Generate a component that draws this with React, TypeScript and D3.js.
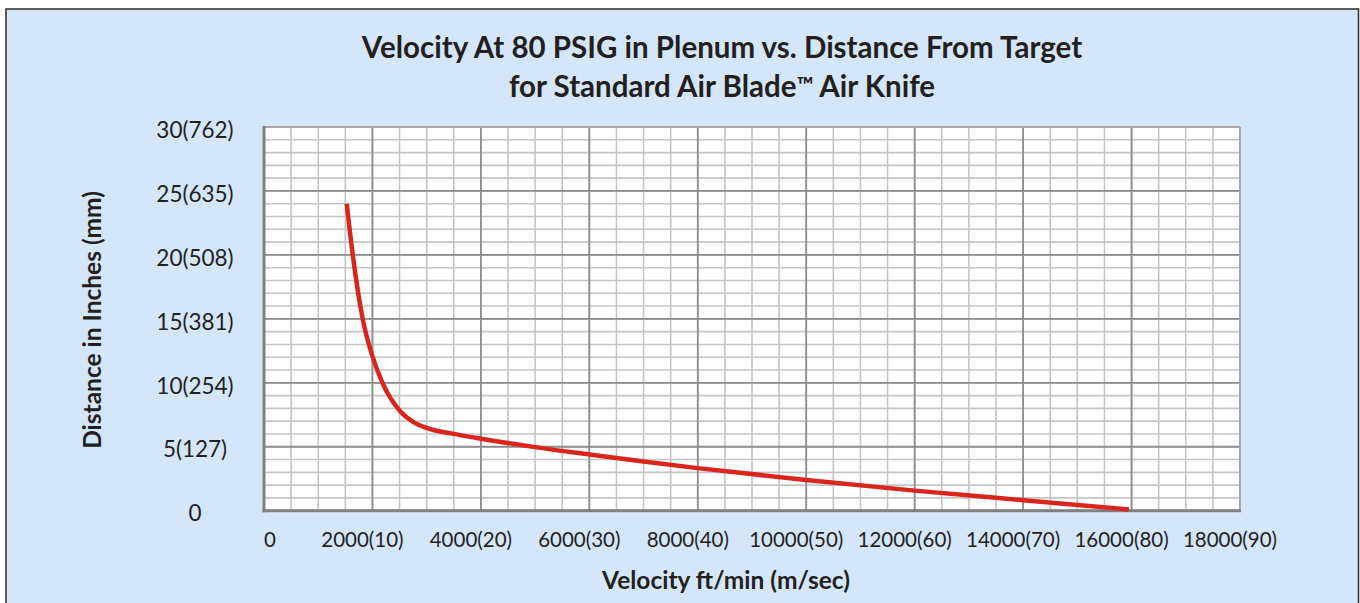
import React from "react";
import * as d3 from "d3";

// ---- data ----
const velocity = [1525, 1637, 1820, 1990, 2185, 2508, 2750, 3000, 3600, 4000, 5000, 6000, 7000, 8000, 10000, 12000, 14000, 15950];
const distance = [24, 20, 15, 12.2, 10, 7.8, 6.95, 6.48, 5.93, 5.63, 4.97, 4.4, 3.85, 3.33, 2.4, 1.57, 0.82, 0.1];

const xTickValues = [0, 2000, 4000, 6000, 8000, 10000, 12000, 14000, 16000, 18000];
const xTickLabels = ["0", "2000(10)", "4000(20)", "6000(30)", "8000(40)", "10000(50)", "12000(60)", "14000(70)", "16000(80)", "18000(90)"];
const yTickValues = [0, 5, 10, 15, 20, 25, 30];
const yTickLabels = ["0", "5(127)", "10(254)", "15(381)", "20(508)", "25(635)", "30(762)"];

const titleLine1 = "Velocity At 80 PSIG in Plenum vs. Distance From Target";
const xAxisTitle = "Velocity ft/min (m/sec)";
const yAxisTitle = "Distance in Inches (mm)";

const W = 1360;
const H = 603;
const FONT = "Lato, 'Open Sans', sans-serif";

export default function App() {
  const x = d3.scaleLinear().domain([0, 18000]).range([264, 1240]);
  const y = d3.scaleLinear().domain([0, 30]).range([510.7, 127]);

  const minorX = d3.range(0, 18001, 500);
  const minorY = d3.range(0, 31, 1);
  const majorX = d3.range(0, 18001, 2000);
  const majorY = d3.range(0, 31, 5);

  const pts: [number, number][] = velocity.map((v, i) => [v, distance[i]]);
  const line = d3
    .line<[number, number]>()
    .x((d) => x(d[0]))
    .y((d) => y(d[1]))
    .curve(d3.curveMonotoneX);

  const [x0, x1] = x.range();
  const [y0, y1] = y.range();

  return (
    <svg
      width={W}
      height={H}
      style={{ position: "absolute", left: 0, top: 0, background: "#ffffff" }}
      fontFamily={FONT}
    >
      <rect x={6} y={9} width={1352.5} height={H + 20} fill="#D3E6FA" stroke="#2a2a2a" strokeWidth={1.5} />

      {/* plot area */}
      <rect x={x0} y={y1} width={x1 - x0} height={y0 - y1} fill="#ffffff" />

      {/* minor grid */}
      {minorX.map((v) => (
        <line key={"mx" + v} x1={x(v)} x2={x(v)} y1={y1} y2={y0} stroke="#C4C4C4" strokeWidth={1.6} />
      ))}
      {minorY.map((v) => (
        <line key={"my" + v} x1={x0} x2={x1} y1={y(v)} y2={y(v)} stroke="#C4C4C4" strokeWidth={1.6} />
      ))}
      {/* major grid */}
      {majorX.map((v) => (
        <line key={"Mx" + v} x1={x(v)} x2={x(v)} y1={y1} y2={y0} stroke="#8E8E8E" strokeWidth={1.8} />
      ))}
      {majorY.map((v) => (
        <line key={"My" + v} x1={x0} x2={x1} y1={y(v)} y2={y(v)} stroke="#8E8E8E" strokeWidth={1.8} />
      ))}
      {/* plot border */}
      <line x1={x0} x2={x1} y1={y1} y2={y1} stroke="#A6A6A6" strokeWidth={1.8} />
      <line x1={x1} x2={x1} y1={y1} y2={y0} stroke="#A6A6A6" strokeWidth={1.8} />
      <line x1={x0} x2={x0} y1={y1 - 1} y2={y0 + 1.5} stroke="#808080" strokeWidth={3} />
      <line x1={x0 - 1.5} x2={x1 + 1} y1={y0} y2={y0} stroke="#808080" strokeWidth={3} />

      {/* curve */}
      <path d={line(pts) || ""} fill="none" stroke="#DA251D" strokeWidth={4.5} />

      {/* y tick labels */}
      {yTickValues.map((v, i) => (
        <text key={"yl" + v} x={195} y={y(v) + 5} textAnchor="middle" dominantBaseline="middle" fontSize={22.5} fill="#231F20">
          {yTickLabels[i]}
        </text>
      ))}
      {/* x tick labels */}
      {xTickValues.map((v, i) => (
        <text
          key={"xl" + v}
          x={i === 0 ? x(v) : x(v) - 10}
          y={547}
          textAnchor={i === 0 ? "start" : "middle"}
          fontSize={20.5}
          fill="#231F20"
        >
          {xTickLabels[i]}
        </text>
      ))}

      {/* titles */}
      <text x={722} y={58} textAnchor="middle" fontSize={29.5} fontWeight="bold" fill="#231F20">
        {titleLine1}
      </text>
      <text x={722} y={97} textAnchor="middle" fontSize={29.5} fontWeight="bold" fill="#231F20">
        for Standard Air Blade<tspan fontSize={22} dy={-4}>™</tspan>
        <tspan dy={4}> Air Knife</tspan>
      </text>

      <text x={726} y={589} textAnchor="middle" fontSize={24.5} fontWeight="bold" fill="#231F20">
        {xAxisTitle}
      </text>
      <text
        transform="translate(101,320) rotate(-90)"
        textAnchor="middle"
        fontSize={24.5}
        fontWeight="bold"
        fill="#231F20"
      >
        {yAxisTitle}
      </text>
    </svg>
  );
}
